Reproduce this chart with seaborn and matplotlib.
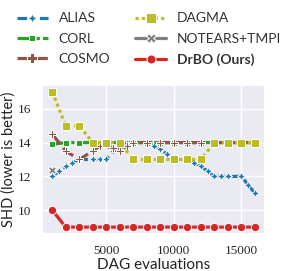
import matplotlib
matplotlib.use("Agg")
import matplotlib.pyplot as plt
import seaborn as sns
import pandas as pd

# ---- data ----
methods = ["ALIAS", "CORL", "COSMO", "DAGMA", "NOTEARS+TMPI", "DrBO (Ours)"]

alias_x = [1000, 1500, 2000, 2500, 3000, 4000, 4500, 5000, 5500, 6000, 6500, 7000, 8000,
           8500, 9000, 9500, 10000, 11000, 11500, 12000, 12500, 13000, 13500, 14000, 15000, 15500, 16000]
alias_y = [12.0, 12.3, 12.6, 12.8, 13.0, 13.0, 13.0, 13.0, 13.5, 13.7, 14.0, 14.0, 14.0,
           13.8, 13.6, 13.3, 13.0, 13.0, 12.8, 12.6, 12.3, 12.0, 12.0, 12.0, 12.0, 11.5, 11.0]

corl_x = [1000, 2000, 3000, 4000, 5000, 6000, 7000, 8000, 9000, 10000, 11000, 12000, 13000, 14000, 15000, 16000]
corl_y = [13.9, 14, 14, 14, 14, 14, 14, 14, 14, 14, 14, 14, 14, 14, 14, 14]

cosmo_x = [1000, 2000, 3000, 4000, 4500, 5500, 6000, 6500, 7000, 8000, 9000, 10000, 11000, 12000,
           13000, 14000, 15000, 16000]
cosmo_y = [14.5, 13.5, 13.0, 13.5, 13.8, 13.7, 13.5, 13.8, 14, 14, 14, 14, 14, 14, 14, 14, 14, 14]

dagma_x = [1000, 2000, 3000, 4000, 5000, 6000, 7000, 8000, 9000, 10000, 11000, 12000, 13000, 14000, 15000, 16000]
dagma_y = [17, 15, 15, 14, 14, 14, 13, 13, 13, 13, 13, 13, 14, 14, 14, 14]

notears_x = [1000]
notears_y = [12.4]

drbo_x = [1000, 2000, 3000, 4000, 5000, 6000, 7000, 8000, 9000, 10000, 11000, 12000, 13000, 14000, 15000, 16000]
drbo_y = [10, 9, 9, 9, 9, 9, 9, 9, 9, 9, 9, 9, 9, 9, 9, 9]

x_label = "DAG evaluations"
y_label = "SHD (lower is better)"
x_ticks = [5000, 10000, 15000]
y_ticks = [10, 12, 14, 16]

series = [(alias_x, alias_y), (corl_x, corl_y), (cosmo_x, cosmo_y),
          (dagma_x, dagma_y), (notears_x, notears_y), (drbo_x, drbo_y)]
rows = []
for m, (xs, ys) in zip(methods, series):
    for xv, yv in zip(xs, ys):
        rows.append({"method": m, "evals": xv, "shd": yv})
df = pd.DataFrame(rows)

palette = {"ALIAS": "#1f77b4", "CORL": "#2ca02c", "COSMO": "#8c564b",
           "DAGMA": "#bcbd22", "NOTEARS+TMPI": "#7f7f7f", "DrBO (Ours)": "#d62728"}
markers = {"ALIAS": (4, 1, 0), "CORL": (4, 0, 45), "COSMO": "P",
           "DAGMA": "s", "NOTEARS+TMPI": "X", "DrBO (Ours)": "o"}
dashes = {"ALIAS": (3, 1.25, 1.5, 1.25), "CORL": (5, 1, 1, 1), "COSMO": (4, 1.5),
          "DAGMA": (1, 1), "NOTEARS+TMPI": "", "DrBO (Ours)": ""}

sns.set_theme(style="darkgrid")
plt.rcParams["font.family"] = ["Lato", "DejaVu Sans"]

fig = plt.figure(figsize=(3.05, 2.71), dpi=100)
ax = fig.add_axes([0.138, 0.137, 0.731, 0.549])

sns.lineplot(data=df, x="evals", y="shd", hue="method", style="method",
             hue_order=methods, style_order=methods,
             palette=palette, markers=markers, dashes=dashes,
             linewidth=2.3, markersize=6, ax=ax)

for line in ax.get_lines():
    line.set_markeredgewidth(0.7)

ax.set_xticks(x_ticks)
ax.set_yticks(y_ticks)
ax.set_xlabel(x_label, fontsize=11, labelpad=1, color="#222222")
ax.set_ylabel(y_label, fontsize=10.5, labelpad=1, color="#222222")
for lab in ax.get_xticklabels() + ax.get_yticklabels():
    lab.set_family(["Liberation Serif"])
    lab.set_fontsize(9.5)
ax.tick_params(axis="both", pad=2)

handles, labels = ax.get_legend_handles_labels()
ax.get_legend().remove()
for h in handles:
    h.set_markersize(6.5)
    h.set_markeredgewidth(0.7)
leg = fig.legend(handles, labels, loc="upper left", bbox_to_anchor=(0.015, 1.0),
                 ncol=2, frameon=False, fontsize=10, handlelength=2.2,
                 handletextpad=0.8, columnspacing=1.8, labelspacing=0.6)
for t in leg.get_texts():
    t.set_color("#333333")
    if t.get_text().startswith("DrBO"):
        t.set_fontweight("bold")

fig.savefig("out.png", dpi=100)
